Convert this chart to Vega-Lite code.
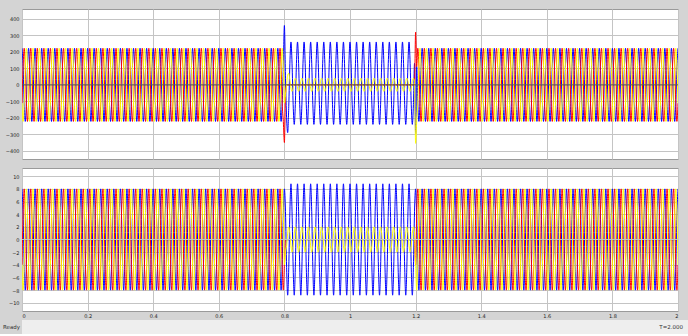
{
"$schema":"https://vega.github.io/schema/vega-lite/v6.json",
"background":"#d4d4d4",
"padding":{"left":0,"top":8,"right":0,"bottom":0},
"config":{
 "view":{"fill":"#ffffff","stroke":"#9a9a9a"},
 "axis":{"labelFontSize":5,"labelFont":"DejaVu Sans","labelColor":"#222222","gridColor":"#c4c4c4","domain":false,"ticks":false,"title":null,"labelPadding":3,"labelOverlap":false},
 "line":{"strokeWidth":1,"interpolate":"monotone"}
},
"datasets":{"w":[
{"t":0,"a":222,"b":-111,"c":-111,"p":8,"q":-4,"r":-4},
{"t":0.0033,"a":111,"b":111,"c":-222,"p":4,"q":4,"r":-8},
{"t":0.0067,"a":-111,"b":222,"c":-111,"p":-4,"q":8,"r":-4},
{"t":0.01,"a":-222,"b":111,"c":111,"p":-8,"q":4,"r":4},
{"t":0.0133,"a":-111,"b":-111,"c":222,"p":-4,"q":-4,"r":8},
{"t":0.0167,"a":111,"b":-222,"c":111,"p":4,"q":-8,"r":4},
{"t":0.02,"a":222,"b":-111,"c":-111,"p":8,"q":-4,"r":-4},
{"t":0.0233,"a":111,"b":111,"c":-222,"p":4,"q":4,"r":-8},
{"t":0.0267,"a":-111,"b":222,"c":-111,"p":-4,"q":8,"r":-4},
{"t":0.03,"a":-222,"b":111,"c":111,"p":-8,"q":4,"r":4},
{"t":0.0333,"a":-111,"b":-111,"c":222,"p":-4,"q":-4,"r":8},
{"t":0.0367,"a":111,"b":-222,"c":111,"p":4,"q":-8,"r":4},
{"t":0.04,"a":222,"b":-111,"c":-111,"p":8,"q":-4,"r":-4},
{"t":0.0433,"a":111,"b":111,"c":-222,"p":4,"q":4,"r":-8},
{"t":0.0467,"a":-111,"b":222,"c":-111,"p":-4,"q":8,"r":-4},
{"t":0.05,"a":-222,"b":111,"c":111,"p":-8,"q":4,"r":4},
{"t":0.0533,"a":-111,"b":-111,"c":222,"p":-4,"q":-4,"r":8},
{"t":0.0567,"a":111,"b":-222,"c":111,"p":4,"q":-8,"r":4},
{"t":0.06,"a":222,"b":-111,"c":-111,"p":8,"q":-4,"r":-4},
{"t":0.0633,"a":111,"b":111,"c":-222,"p":4,"q":4,"r":-8},
{"t":0.0667,"a":-111,"b":222,"c":-111,"p":-4,"q":8,"r":-4},
{"t":0.07,"a":-222,"b":111,"c":111,"p":-8,"q":4,"r":4},
{"t":0.0733,"a":-111,"b":-111,"c":222,"p":-4,"q":-4,"r":8},
{"t":0.0767,"a":111,"b":-222,"c":111,"p":4,"q":-8,"r":4},
{"t":0.08,"a":222,"b":-111,"c":-111,"p":8,"q":-4,"r":-4},
{"t":0.0833,"a":111,"b":111,"c":-222,"p":4,"q":4,"r":-8},
{"t":0.0867,"a":-111,"b":222,"c":-111,"p":-4,"q":8,"r":-4},
{"t":0.09,"a":-222,"b":111,"c":111,"p":-8,"q":4,"r":4},
{"t":0.0933,"a":-111,"b":-111,"c":222,"p":-4,"q":-4,"r":8},
{"t":0.0967,"a":111,"b":-222,"c":111,"p":4,"q":-8,"r":4},
{"t":0.1,"a":222,"b":-111,"c":-111,"p":8,"q":-4,"r":-4},
{"t":0.1033,"a":111,"b":111,"c":-222,"p":4,"q":4,"r":-8},
{"t":0.1067,"a":-111,"b":222,"c":-111,"p":-4,"q":8,"r":-4},
{"t":0.11,"a":-222,"b":111,"c":111,"p":-8,"q":4,"r":4},
{"t":0.1133,"a":-111,"b":-111,"c":222,"p":-4,"q":-4,"r":8},
{"t":0.1167,"a":111,"b":-222,"c":111,"p":4,"q":-8,"r":4},
{"t":0.12,"a":222,"b":-111,"c":-111,"p":8,"q":-4,"r":-4},
{"t":0.1233,"a":111,"b":111,"c":-222,"p":4,"q":4,"r":-8},
{"t":0.1267,"a":-111,"b":222,"c":-111,"p":-4,"q":8,"r":-4},
{"t":0.13,"a":-222,"b":111,"c":111,"p":-8,"q":4,"r":4},
{"t":0.1333,"a":-111,"b":-111,"c":222,"p":-4,"q":-4,"r":8},
{"t":0.1367,"a":111,"b":-222,"c":111,"p":4,"q":-8,"r":4},
{"t":0.14,"a":222,"b":-111,"c":-111,"p":8,"q":-4,"r":-4},
{"t":0.1433,"a":111,"b":111,"c":-222,"p":4,"q":4,"r":-8},
{"t":0.1467,"a":-111,"b":222,"c":-111,"p":-4,"q":8,"r":-4},
{"t":0.15,"a":-222,"b":111,"c":111,"p":-8,"q":4,"r":4},
{"t":0.1533,"a":-111,"b":-111,"c":222,"p":-4,"q":-4,"r":8},
{"t":0.1567,"a":111,"b":-222,"c":111,"p":4,"q":-8,"r":4},
{"t":0.16,"a":222,"b":-111,"c":-111,"p":8,"q":-4,"r":-4},
{"t":0.1633,"a":111,"b":111,"c":-222,"p":4,"q":4,"r":-8},
{"t":0.1667,"a":-111,"b":222,"c":-111,"p":-4,"q":8,"r":-4},
{"t":0.17,"a":-222,"b":111,"c":111,"p":-8,"q":4,"r":4},
{"t":0.1733,"a":-111,"b":-111,"c":222,"p":-4,"q":-4,"r":8},
{"t":0.1767,"a":111,"b":-222,"c":111,"p":4,"q":-8,"r":4},
{"t":0.18,"a":222,"b":-111,"c":-111,"p":8,"q":-4,"r":-4},
{"t":0.1833,"a":111,"b":111,"c":-222,"p":4,"q":4,"r":-8},
{"t":0.1867,"a":-111,"b":222,"c":-111,"p":-4,"q":8,"r":-4},
{"t":0.19,"a":-222,"b":111,"c":111,"p":-8,"q":4,"r":4},
{"t":0.1933,"a":-111,"b":-111,"c":222,"p":-4,"q":-4,"r":8},
{"t":0.1967,"a":111,"b":-222,"c":111,"p":4,"q":-8,"r":4},
{"t":0.2,"a":222,"b":-111,"c":-111,"p":8,"q":-4,"r":-4},
{"t":0.2033,"a":111,"b":111,"c":-222,"p":4,"q":4,"r":-8},
{"t":0.2067,"a":-111,"b":222,"c":-111,"p":-4,"q":8,"r":-4},
{"t":0.21,"a":-222,"b":111,"c":111,"p":-8,"q":4,"r":4},
{"t":0.2133,"a":-111,"b":-111,"c":222,"p":-4,"q":-4,"r":8},
{"t":0.2167,"a":111,"b":-222,"c":111,"p":4,"q":-8,"r":4},
{"t":0.22,"a":222,"b":-111,"c":-111,"p":8,"q":-4,"r":-4},
{"t":0.2233,"a":111,"b":111,"c":-222,"p":4,"q":4,"r":-8},
{"t":0.2267,"a":-111,"b":222,"c":-111,"p":-4,"q":8,"r":-4},
{"t":0.23,"a":-222,"b":111,"c":111,"p":-8,"q":4,"r":4},
{"t":0.2333,"a":-111,"b":-111,"c":222,"p":-4,"q":-4,"r":8},
{"t":0.2367,"a":111,"b":-222,"c":111,"p":4,"q":-8,"r":4},
{"t":0.24,"a":222,"b":-111,"c":-111,"p":8,"q":-4,"r":-4},
{"t":0.2433,"a":111,"b":111,"c":-222,"p":4,"q":4,"r":-8},
{"t":0.2467,"a":-111,"b":222,"c":-111,"p":-4,"q":8,"r":-4},
{"t":0.25,"a":-222,"b":111,"c":111,"p":-8,"q":4,"r":4},
{"t":0.2533,"a":-111,"b":-111,"c":222,"p":-4,"q":-4,"r":8},
{"t":0.2567,"a":111,"b":-222,"c":111,"p":4,"q":-8,"r":4},
{"t":0.26,"a":222,"b":-111,"c":-111,"p":8,"q":-4,"r":-4},
{"t":0.2633,"a":111,"b":111,"c":-222,"p":4,"q":4,"r":-8},
{"t":0.2667,"a":-111,"b":222,"c":-111,"p":-4,"q":8,"r":-4},
{"t":0.27,"a":-222,"b":111,"c":111,"p":-8,"q":4,"r":4},
{"t":0.2733,"a":-111,"b":-111,"c":222,"p":-4,"q":-4,"r":8},
{"t":0.2767,"a":111,"b":-222,"c":111,"p":4,"q":-8,"r":4},
{"t":0.28,"a":222,"b":-111,"c":-111,"p":8,"q":-4,"r":-4},
{"t":0.2833,"a":111,"b":111,"c":-222,"p":4,"q":4,"r":-8},
{"t":0.2867,"a":-111,"b":222,"c":-111,"p":-4,"q":8,"r":-4},
{"t":0.29,"a":-222,"b":111,"c":111,"p":-8,"q":4,"r":4},
{"t":0.2933,"a":-111,"b":-111,"c":222,"p":-4,"q":-4,"r":8},
{"t":0.2967,"a":111,"b":-222,"c":111,"p":4,"q":-8,"r":4},
{"t":0.3,"a":222,"b":-111,"c":-111,"p":8,"q":-4,"r":-4},
{"t":0.3033,"a":111,"b":111,"c":-222,"p":4,"q":4,"r":-8},
{"t":0.3067,"a":-111,"b":222,"c":-111,"p":-4,"q":8,"r":-4},
{"t":0.31,"a":-222,"b":111,"c":111,"p":-8,"q":4,"r":4},
{"t":0.3133,"a":-111,"b":-111,"c":222,"p":-4,"q":-4,"r":8},
{"t":0.3167,"a":111,"b":-222,"c":111,"p":4,"q":-8,"r":4},
{"t":0.32,"a":222,"b":-111,"c":-111,"p":8,"q":-4,"r":-4},
{"t":0.3233,"a":111,"b":111,"c":-222,"p":4,"q":4,"r":-8},
{"t":0.3267,"a":-111,"b":222,"c":-111,"p":-4,"q":8,"r":-4},
{"t":0.33,"a":-222,"b":111,"c":111,"p":-8,"q":4,"r":4},
{"t":0.3333,"a":-111,"b":-111,"c":222,"p":-4,"q":-4,"r":8},
{"t":0.3367,"a":111,"b":-222,"c":111,"p":4,"q":-8,"r":4},
{"t":0.34,"a":222,"b":-111,"c":-111,"p":8,"q":-4,"r":-4},
{"t":0.3433,"a":111,"b":111,"c":-222,"p":4,"q":4,"r":-8},
{"t":0.3467,"a":-111,"b":222,"c":-111,"p":-4,"q":8,"r":-4},
{"t":0.35,"a":-222,"b":111,"c":111,"p":-8,"q":4,"r":4},
{"t":0.3533,"a":-111,"b":-111,"c":222,"p":-4,"q":-4,"r":8},
{"t":0.3567,"a":111,"b":-222,"c":111,"p":4,"q":-8,"r":4},
{"t":0.36,"a":222,"b":-111,"c":-111,"p":8,"q":-4,"r":-4},
{"t":0.3633,"a":111,"b":111,"c":-222,"p":4,"q":4,"r":-8},
{"t":0.3667,"a":-111,"b":222,"c":-111,"p":-4,"q":8,"r":-4},
{"t":0.37,"a":-222,"b":111,"c":111,"p":-8,"q":4,"r":4},
{"t":0.3733,"a":-111,"b":-111,"c":222,"p":-4,"q":-4,"r":8},
{"t":0.3767,"a":111,"b":-222,"c":111,"p":4,"q":-8,"r":4},
{"t":0.38,"a":222,"b":-111,"c":-111,"p":8,"q":-4,"r":-4},
{"t":0.3833,"a":111,"b":111,"c":-222,"p":4,"q":4,"r":-8},
{"t":0.3867,"a":-111,"b":222,"c":-111,"p":-4,"q":8,"r":-4},
{"t":0.39,"a":-222,"b":111,"c":111,"p":-8,"q":4,"r":4},
{"t":0.3933,"a":-111,"b":-111,"c":222,"p":-4,"q":-4,"r":8},
{"t":0.3967,"a":111,"b":-222,"c":111,"p":4,"q":-8,"r":4},
{"t":0.4,"a":222,"b":-111,"c":-111,"p":8,"q":-4,"r":-4},
{"t":0.4033,"a":111,"b":111,"c":-222,"p":4,"q":4,"r":-8},
{"t":0.4067,"a":-111,"b":222,"c":-111,"p":-4,"q":8,"r":-4},
{"t":0.41,"a":-222,"b":111,"c":111,"p":-8,"q":4,"r":4},
{"t":0.4133,"a":-111,"b":-111,"c":222,"p":-4,"q":-4,"r":8},
{"t":0.4167,"a":111,"b":-222,"c":111,"p":4,"q":-8,"r":4},
{"t":0.42,"a":222,"b":-111,"c":-111,"p":8,"q":-4,"r":-4},
{"t":0.4233,"a":111,"b":111,"c":-222,"p":4,"q":4,"r":-8},
{"t":0.4267,"a":-111,"b":222,"c":-111,"p":-4,"q":8,"r":-4},
{"t":0.43,"a":-222,"b":111,"c":111,"p":-8,"q":4,"r":4},
{"t":0.4333,"a":-111,"b":-111,"c":222,"p":-4,"q":-4,"r":8},
{"t":0.4367,"a":111,"b":-222,"c":111,"p":4,"q":-8,"r":4},
{"t":0.44,"a":222,"b":-111,"c":-111,"p":8,"q":-4,"r":-4},
{"t":0.4433,"a":111,"b":111,"c":-222,"p":4,"q":4,"r":-8},
{"t":0.4467,"a":-111,"b":222,"c":-111,"p":-4,"q":8,"r":-4},
{"t":0.45,"a":-222,"b":111,"c":111,"p":-8,"q":4,"r":4},
{"t":0.4533,"a":-111,"b":-111,"c":222,"p":-4,"q":-4,"r":8},
{"t":0.4567,"a":111,"b":-222,"c":111,"p":4,"q":-8,"r":4},
{"t":0.46,"a":222,"b":-111,"c":-111,"p":8,"q":-4,"r":-4},
{"t":0.4633,"a":111,"b":111,"c":-222,"p":4,"q":4,"r":-8},
{"t":0.4667,"a":-111,"b":222,"c":-111,"p":-4,"q":8,"r":-4},
{"t":0.47,"a":-222,"b":111,"c":111,"p":-8,"q":4,"r":4},
{"t":0.4733,"a":-111,"b":-111,"c":222,"p":-4,"q":-4,"r":8},
{"t":0.4767,"a":111,"b":-222,"c":111,"p":4,"q":-8,"r":4},
{"t":0.48,"a":222,"b":-111,"c":-111,"p":8,"q":-4,"r":-4},
{"t":0.4833,"a":111,"b":111,"c":-222,"p":4,"q":4,"r":-8},
{"t":0.4867,"a":-111,"b":222,"c":-111,"p":-4,"q":8,"r":-4},
{"t":0.49,"a":-222,"b":111,"c":111,"p":-8,"q":4,"r":4},
{"t":0.4933,"a":-111,"b":-111,"c":222,"p":-4,"q":-4,"r":8},
{"t":0.4967,"a":111,"b":-222,"c":111,"p":4,"q":-8,"r":4},
{"t":0.5,"a":222,"b":-111,"c":-111,"p":8,"q":-4,"r":-4},
{"t":0.5033,"a":111,"b":111,"c":-222,"p":4,"q":4,"r":-8},
{"t":0.5067,"a":-111,"b":222,"c":-111,"p":-4,"q":8,"r":-4},
{"t":0.51,"a":-222,"b":111,"c":111,"p":-8,"q":4,"r":4},
{"t":0.5133,"a":-111,"b":-111,"c":222,"p":-4,"q":-4,"r":8},
{"t":0.5167,"a":111,"b":-222,"c":111,"p":4,"q":-8,"r":4},
{"t":0.52,"a":222,"b":-111,"c":-111,"p":8,"q":-4,"r":-4},
{"t":0.5233,"a":111,"b":111,"c":-222,"p":4,"q":4,"r":-8},
{"t":0.5267,"a":-111,"b":222,"c":-111,"p":-4,"q":8,"r":-4},
{"t":0.53,"a":-222,"b":111,"c":111,"p":-8,"q":4,"r":4},
{"t":0.5333,"a":-111,"b":-111,"c":222,"p":-4,"q":-4,"r":8},
{"t":0.5367,"a":111,"b":-222,"c":111,"p":4,"q":-8,"r":4},
{"t":0.54,"a":222,"b":-111,"c":-111,"p":8,"q":-4,"r":-4},
{"t":0.5433,"a":111,"b":111,"c":-222,"p":4,"q":4,"r":-8},
{"t":0.5467,"a":-111,"b":222,"c":-111,"p":-4,"q":8,"r":-4},
{"t":0.55,"a":-222,"b":111,"c":111,"p":-8,"q":4,"r":4},
{"t":0.5533,"a":-111,"b":-111,"c":222,"p":-4,"q":-4,"r":8},
{"t":0.5567,"a":111,"b":-222,"c":111,"p":4,"q":-8,"r":4},
{"t":0.56,"a":222,"b":-111,"c":-111,"p":8,"q":-4,"r":-4},
{"t":0.5633,"a":111,"b":111,"c":-222,"p":4,"q":4,"r":-8},
{"t":0.5667,"a":-111,"b":222,"c":-111,"p":-4,"q":8,"r":-4},
{"t":0.57,"a":-222,"b":111,"c":111,"p":-8,"q":4,"r":4},
{"t":0.5733,"a":-111,"b":-111,"c":222,"p":-4,"q":-4,"r":8},
{"t":0.5767,"a":111,"b":-222,"c":111,"p":4,"q":-8,"r":4},
{"t":0.58,"a":222,"b":-111,"c":-111,"p":8,"q":-4,"r":-4},
{"t":0.5833,"a":111,"b":111,"c":-222,"p":4,"q":4,"r":-8},
{"t":0.5867,"a":-111,"b":222,"c":-111,"p":-4,"q":8,"r":-4},
{"t":0.59,"a":-222,"b":111,"c":111,"p":-8,"q":4,"r":4},
{"t":0.5933,"a":-111,"b":-111,"c":222,"p":-4,"q":-4,"r":8},
{"t":0.5967,"a":111,"b":-222,"c":111,"p":4,"q":-8,"r":4},
{"t":0.6,"a":222,"b":-111,"c":-111,"p":8,"q":-4,"r":-4},
{"t":0.6033,"a":111,"b":111,"c":-222,"p":4,"q":4,"r":-8},
{"t":0.6067,"a":-111,"b":222,"c":-111,"p":-4,"q":8,"r":-4},
{"t":0.61,"a":-222,"b":111,"c":111,"p":-8,"q":4,"r":4},
{"t":0.6133,"a":-111,"b":-111,"c":222,"p":-4,"q":-4,"r":8},
{"t":0.6167,"a":111,"b":-222,"c":111,"p":4,"q":-8,"r":4},
{"t":0.62,"a":222,"b":-111,"c":-111,"p":8,"q":-4,"r":-4},
{"t":0.6233,"a":111,"b":111,"c":-222,"p":4,"q":4,"r":-8},
{"t":0.6267,"a":-111,"b":222,"c":-111,"p":-4,"q":8,"r":-4},
{"t":0.63,"a":-222,"b":111,"c":111,"p":-8,"q":4,"r":4},
{"t":0.6333,"a":-111,"b":-111,"c":222,"p":-4,"q":-4,"r":8},
{"t":0.6367,"a":111,"b":-222,"c":111,"p":4,"q":-8,"r":4},
{"t":0.64,"a":222,"b":-111,"c":-111,"p":8,"q":-4,"r":-4},
{"t":0.6433,"a":111,"b":111,"c":-222,"p":4,"q":4,"r":-8},
{"t":0.6467,"a":-111,"b":222,"c":-111,"p":-4,"q":8,"r":-4},
{"t":0.65,"a":-222,"b":111,"c":111,"p":-8,"q":4,"r":4},
{"t":0.6533,"a":-111,"b":-111,"c":222,"p":-4,"q":-4,"r":8},
{"t":0.6567,"a":111,"b":-222,"c":111,"p":4,"q":-8,"r":4},
{"t":0.66,"a":222,"b":-111,"c":-111,"p":8,"q":-4,"r":-4},
{"t":0.6633,"a":111,"b":111,"c":-222,"p":4,"q":4,"r":-8},
{"t":0.6667,"a":-111,"b":222,"c":-111,"p":-4,"q":8,"r":-4},
{"t":0.67,"a":-222,"b":111,"c":111,"p":-8,"q":4,"r":4},
{"t":0.6733,"a":-111,"b":-111,"c":222,"p":-4,"q":-4,"r":8},
{"t":0.6767,"a":111,"b":-222,"c":111,"p":4,"q":-8,"r":4},
{"t":0.68,"a":222,"b":-111,"c":-111,"p":8,"q":-4,"r":-4},
{"t":0.6833,"a":111,"b":111,"c":-222,"p":4,"q":4,"r":-8},
{"t":0.6867,"a":-111,"b":222,"c":-111,"p":-4,"q":8,"r":-4},
{"t":0.69,"a":-222,"b":111,"c":111,"p":-8,"q":4,"r":4},
{"t":0.6933,"a":-111,"b":-111,"c":222,"p":-4,"q":-4,"r":8},
{"t":0.6967,"a":111,"b":-222,"c":111,"p":4,"q":-8,"r":4},
{"t":0.7,"a":222,"b":-111,"c":-111,"p":8,"q":-4,"r":-4},
{"t":0.7033,"a":111,"b":111,"c":-222,"p":4,"q":4,"r":-8},
{"t":0.7067,"a":-111,"b":222,"c":-111,"p":-4,"q":8,"r":-4},
{"t":0.71,"a":-222,"b":111,"c":111,"p":-8,"q":4,"r":4},
{"t":0.7133,"a":-111,"b":-111,"c":222,"p":-4,"q":-4,"r":8},
{"t":0.7167,"a":111,"b":-222,"c":111,"p":4,"q":-8,"r":4},
{"t":0.72,"a":222,"b":-111,"c":-111,"p":8,"q":-4,"r":-4},
{"t":0.7233,"a":111,"b":111,"c":-222,"p":4,"q":4,"r":-8},
{"t":0.7267,"a":-111,"b":222,"c":-111,"p":-4,"q":8,"r":-4},
{"t":0.73,"a":-222,"b":111,"c":111,"p":-8,"q":4,"r":4},
{"t":0.7333,"a":-111,"b":-111,"c":222,"p":-4,"q":-4,"r":8},
{"t":0.7367,"a":111,"b":-222,"c":111,"p":4,"q":-8,"r":4},
{"t":0.74,"a":222,"b":-111,"c":-111,"p":8,"q":-4,"r":-4},
{"t":0.7433,"a":111,"b":111,"c":-222,"p":4,"q":4,"r":-8},
{"t":0.7467,"a":-111,"b":222,"c":-111,"p":-4,"q":8,"r":-4},
{"t":0.75,"a":-222,"b":111,"c":111,"p":-8,"q":4,"r":4},
{"t":0.7533,"a":-111,"b":-111,"c":222,"p":-4,"q":-4,"r":8},
{"t":0.7567,"a":111,"b":-222,"c":111,"p":4,"q":-8,"r":4},
{"t":0.76,"a":222,"b":-111,"c":-111,"p":8,"q":-4,"r":-4},
{"t":0.7633,"a":111,"b":111,"c":-222,"p":4,"q":4,"r":-8},
{"t":0.7667,"a":-111,"b":222,"c":-111,"p":-4,"q":8,"r":-4},
{"t":0.77,"a":-222,"b":111,"c":111,"p":-8,"q":4,"r":4},
{"t":0.7733,"a":-111,"b":-111,"c":222,"p":-4,"q":-4,"r":8},
{"t":0.7767,"a":111,"b":-222,"c":111,"p":4,"q":-8,"r":4},
{"t":0.78,"a":222,"b":-111,"c":-111,"p":8,"q":-4,"r":-4},
{"t":0.7833,"a":111,"b":111,"c":-222,"p":4,"q":4,"r":-8},
{"t":0.7867,"a":-111,"b":222,"c":-111,"p":-4,"q":8,"r":-4},
{"t":0.79,"a":-222,"b":111,"c":111,"p":-8,"q":4,"r":4},
{"t":0.7933,"a":-111,"b":-111,"c":222,"p":-4,"q":-4,"r":8},
{"t":0.7967,"a":111,"b":-222,"c":111,"p":4,"q":-8,"r":4},
{"t":0.8,"a":360,"b":-350,"c":-111,"p":8,"q":-4,"r":-4},
{"t":0.8033,"a":40,"b":-60,"c":-60,"p":4.4,"q":0,"r":-2},
{"t":0.8067,"a":-200,"b":0,"c":0,"p":-4.4,"q":0,"r":-1},
{"t":0.81,"a":-290,"b":0,"c":60,"p":-8.8,"q":0,"r":1},
{"t":0.8133,"a":-130,"b":0,"c":70,"p":-4.4,"q":0,"r":2},
{"t":0.8167,"a":130,"b":0,"c":30,"p":4.4,"q":0,"r":1},
{"t":0.82,"a":260,"b":0,"c":-20,"p":8.8,"q":0,"r":-1},
{"t":0.8233,"a":130,"b":0,"c":-40,"p":4.4,"q":0,"r":-2},
{"t":0.8267,"a":-120,"b":0,"c":-20,"p":-4.4,"q":0,"r":-1},
{"t":0.83,"a":-240,"b":0,"c":20,"p":-8.8,"q":0,"r":1},
{"t":0.8333,"a":-120,"b":0,"c":40,"p":-4.4,"q":0,"r":2},
{"t":0.8367,"a":130,"b":0,"c":20,"p":4.4,"q":0,"r":1},
{"t":0.84,"a":260,"b":0,"c":-20,"p":8.8,"q":0,"r":-1},
{"t":0.8433,"a":130,"b":0,"c":-40,"p":4.4,"q":0,"r":-2},
{"t":0.8467,"a":-120,"b":0,"c":-20,"p":-4.4,"q":0,"r":-1},
{"t":0.85,"a":-240,"b":0,"c":20,"p":-8.8,"q":0,"r":1},
{"t":0.8533,"a":-120,"b":0,"c":40,"p":-4.4,"q":0,"r":2},
{"t":0.8567,"a":130,"b":0,"c":20,"p":4.4,"q":0,"r":1},
{"t":0.86,"a":260,"b":0,"c":-20,"p":8.8,"q":0,"r":-1},
{"t":0.8633,"a":130,"b":0,"c":-40,"p":4.4,"q":0,"r":-2},
{"t":0.8667,"a":-120,"b":0,"c":-20,"p":-4.4,"q":0,"r":-1},
{"t":0.87,"a":-240,"b":0,"c":20,"p":-8.8,"q":0,"r":1},
{"t":0.8733,"a":-120,"b":0,"c":40,"p":-4.4,"q":0,"r":2},
{"t":0.8767,"a":130,"b":0,"c":20,"p":4.4,"q":0,"r":1},
{"t":0.88,"a":260,"b":0,"c":-20,"p":8.8,"q":0,"r":-1},
{"t":0.8833,"a":130,"b":0,"c":-40,"p":4.4,"q":0,"r":-2},
{"t":0.8867,"a":-120,"b":0,"c":-20,"p":-4.4,"q":0,"r":-1},
{"t":0.89,"a":-240,"b":0,"c":20,"p":-8.8,"q":0,"r":1},
{"t":0.8933,"a":-120,"b":0,"c":40,"p":-4.4,"q":0,"r":2},
{"t":0.8967,"a":130,"b":0,"c":20,"p":4.4,"q":0,"r":1},
{"t":0.9,"a":260,"b":0,"c":-20,"p":8.8,"q":0,"r":-1},
{"t":0.9033,"a":130,"b":0,"c":-40,"p":4.4,"q":0,"r":-2},
{"t":0.9067,"a":-120,"b":0,"c":-20,"p":-4.4,"q":0,"r":-1},
{"t":0.91,"a":-240,"b":0,"c":20,"p":-8.8,"q":0,"r":1},
{"t":0.9133,"a":-120,"b":0,"c":40,"p":-4.4,"q":0,"r":2},
{"t":0.9167,"a":130,"b":0,"c":20,"p":4.4,"q":0,"r":1},
{"t":0.92,"a":260,"b":0,"c":-20,"p":8.8,"q":0,"r":-1},
{"t":0.9233,"a":130,"b":0,"c":-40,"p":4.4,"q":0,"r":-2},
{"t":0.9267,"a":-120,"b":0,"c":-20,"p":-4.4,"q":0,"r":-1},
{"t":0.93,"a":-240,"b":0,"c":20,"p":-8.8,"q":0,"r":1},
{"t":0.9333,"a":-120,"b":0,"c":40,"p":-4.4,"q":0,"r":2},
{"t":0.9367,"a":130,"b":0,"c":20,"p":4.4,"q":0,"r":1},
{"t":0.94,"a":260,"b":0,"c":-20,"p":8.8,"q":0,"r":-1},
{"t":0.9433,"a":130,"b":0,"c":-40,"p":4.4,"q":0,"r":-2},
{"t":0.9467,"a":-120,"b":0,"c":-20,"p":-4.4,"q":0,"r":-1},
{"t":0.95,"a":-240,"b":0,"c":20,"p":-8.8,"q":0,"r":1},
{"t":0.9533,"a":-120,"b":0,"c":40,"p":-4.4,"q":0,"r":2},
{"t":0.9567,"a":130,"b":0,"c":20,"p":4.4,"q":0,"r":1},
{"t":0.96,"a":260,"b":0,"c":-20,"p":8.8,"q":0,"r":-1},
{"t":0.9633,"a":130,"b":0,"c":-40,"p":4.4,"q":0,"r":-2},
{"t":0.9667,"a":-120,"b":0,"c":-20,"p":-4.4,"q":0,"r":-1},
{"t":0.97,"a":-240,"b":0,"c":20,"p":-8.8,"q":0,"r":1},
{"t":0.9733,"a":-120,"b":0,"c":40,"p":-4.4,"q":0,"r":2},
{"t":0.9767,"a":130,"b":0,"c":20,"p":4.4,"q":0,"r":1},
{"t":0.98,"a":260,"b":0,"c":-20,"p":8.8,"q":0,"r":-1},
{"t":0.9833,"a":130,"b":0,"c":-40,"p":4.4,"q":0,"r":-2},
{"t":0.9867,"a":-120,"b":0,"c":-20,"p":-4.4,"q":0,"r":-1},
{"t":0.99,"a":-240,"b":0,"c":20,"p":-8.8,"q":0,"r":1},
{"t":0.9933,"a":-120,"b":0,"c":40,"p":-4.4,"q":0,"r":2},
{"t":0.9967,"a":130,"b":0,"c":20,"p":4.4,"q":0,"r":1},
{"t":1,"a":260,"b":0,"c":-20,"p":8.8,"q":0,"r":-1},
{"t":1.0033,"a":130,"b":0,"c":-40,"p":4.4,"q":0,"r":-2},
{"t":1.0067,"a":-120,"b":0,"c":-20,"p":-4.4,"q":0,"r":-1},
{"t":1.01,"a":-240,"b":0,"c":20,"p":-8.8,"q":0,"r":1},
{"t":1.0133,"a":-120,"b":0,"c":40,"p":-4.4,"q":0,"r":2},
{"t":1.0167,"a":130,"b":0,"c":20,"p":4.4,"q":0,"r":1},
{"t":1.02,"a":260,"b":0,"c":-20,"p":8.8,"q":0,"r":-1},
{"t":1.0233,"a":130,"b":0,"c":-40,"p":4.4,"q":0,"r":-2},
{"t":1.0267,"a":-120,"b":0,"c":-20,"p":-4.4,"q":0,"r":-1},
{"t":1.03,"a":-240,"b":0,"c":20,"p":-8.8,"q":0,"r":1},
{"t":1.0333,"a":-120,"b":0,"c":40,"p":-4.4,"q":0,"r":2},
{"t":1.0367,"a":130,"b":0,"c":20,"p":4.4,"q":0,"r":1},
{"t":1.04,"a":260,"b":0,"c":-20,"p":8.8,"q":0,"r":-1},
{"t":1.0433,"a":130,"b":0,"c":-40,"p":4.4,"q":0,"r":-2},
{"t":1.0467,"a":-120,"b":0,"c":-20,"p":-4.4,"q":0,"r":-1},
{"t":1.05,"a":-240,"b":0,"c":20,"p":-8.8,"q":0,"r":1},
{"t":1.0533,"a":-120,"b":0,"c":40,"p":-4.4,"q":0,"r":2},
{"t":1.0567,"a":130,"b":0,"c":20,"p":4.4,"q":0,"r":1},
{"t":1.06,"a":260,"b":0,"c":-20,"p":8.8,"q":0,"r":-1},
{"t":1.0633,"a":130,"b":0,"c":-40,"p":4.4,"q":0,"r":-2},
{"t":1.0667,"a":-120,"b":0,"c":-20,"p":-4.4,"q":0,"r":-1},
{"t":1.07,"a":-240,"b":0,"c":20,"p":-8.8,"q":0,"r":1},
{"t":1.0733,"a":-120,"b":0,"c":40,"p":-4.4,"q":0,"r":2},
{"t":1.0767,"a":130,"b":0,"c":20,"p":4.4,"q":0,"r":1},
{"t":1.08,"a":260,"b":0,"c":-20,"p":8.8,"q":0,"r":-1},
{"t":1.0833,"a":130,"b":0,"c":-40,"p":4.4,"q":0,"r":-2},
{"t":1.0867,"a":-120,"b":0,"c":-20,"p":-4.4,"q":0,"r":-1},
{"t":1.09,"a":-240,"b":0,"c":20,"p":-8.8,"q":0,"r":1},
{"t":1.0933,"a":-120,"b":0,"c":40,"p":-4.4,"q":0,"r":2},
{"t":1.0967,"a":130,"b":0,"c":20,"p":4.4,"q":0,"r":1},
{"t":1.1,"a":260,"b":0,"c":-20,"p":8.8,"q":0,"r":-1},
{"t":1.1033,"a":130,"b":0,"c":-40,"p":4.4,"q":0,"r":-2},
{"t":1.1067,"a":-120,"b":0,"c":-20,"p":-4.4,"q":0,"r":-1},
{"t":1.11,"a":-240,"b":0,"c":20,"p":-8.8,"q":0,"r":1},
{"t":1.1133,"a":-120,"b":0,"c":40,"p":-4.4,"q":0,"r":2},
{"t":1.1167,"a":130,"b":0,"c":20,"p":4.4,"q":0,"r":1},
{"t":1.12,"a":260,"b":0,"c":-20,"p":8.8,"q":0,"r":-1},
{"t":1.1233,"a":130,"b":0,"c":-40,"p":4.4,"q":0,"r":-2},
{"t":1.1267,"a":-120,"b":0,"c":-20,"p":-4.4,"q":0,"r":-1},
{"t":1.13,"a":-240,"b":0,"c":20,"p":-8.8,"q":0,"r":1},
{"t":1.1333,"a":-120,"b":0,"c":40,"p":-4.4,"q":0,"r":2},
{"t":1.1367,"a":130,"b":0,"c":20,"p":4.4,"q":0,"r":1},
{"t":1.14,"a":260,"b":0,"c":-20,"p":8.8,"q":0,"r":-1},
{"t":1.1433,"a":130,"b":0,"c":-40,"p":4.4,"q":0,"r":-2},
{"t":1.1467,"a":-120,"b":0,"c":-20,"p":-4.4,"q":0,"r":-1},
{"t":1.15,"a":-240,"b":0,"c":20,"p":-8.8,"q":0,"r":1},
{"t":1.1533,"a":-120,"b":0,"c":40,"p":-4.4,"q":0,"r":2},
{"t":1.1567,"a":130,"b":0,"c":20,"p":4.4,"q":0,"r":1},
{"t":1.16,"a":260,"b":0,"c":-20,"p":8.8,"q":0,"r":-1},
{"t":1.1633,"a":130,"b":0,"c":-40,"p":4.4,"q":0,"r":-2},
{"t":1.1667,"a":-120,"b":0,"c":-20,"p":-4.4,"q":0,"r":-1},
{"t":1.17,"a":-240,"b":0,"c":20,"p":-8.8,"q":0,"r":1},
{"t":1.1733,"a":-120,"b":0,"c":40,"p":-4.4,"q":0,"r":2},
{"t":1.1767,"a":130,"b":0,"c":20,"p":4.4,"q":0,"r":1},
{"t":1.18,"a":260,"b":0,"c":-20,"p":8.8,"q":0,"r":-1},
{"t":1.1833,"a":130,"b":0,"c":-40,"p":4.4,"q":0,"r":-2},
{"t":1.1867,"a":-120,"b":0,"c":-20,"p":-4.4,"q":0,"r":-1},
{"t":1.19,"a":-240,"b":0,"c":20,"p":-8.8,"q":0,"r":1},
{"t":1.1933,"a":-120,"b":0,"c":40,"p":-4.4,"q":0,"r":2},
{"t":1.1967,"a":130,"b":0,"c":20,"p":4.4,"q":0,"r":1},
{"t":1.2,"a":-295,"b":320,"c":-355,"p":8,"q":-4,"r":-4},
{"t":1.2033,"a":111,"b":111,"c":-222,"p":4,"q":4,"r":-8},
{"t":1.2067,"a":-111,"b":222,"c":-111,"p":-4,"q":8,"r":-4},
{"t":1.21,"a":-222,"b":111,"c":111,"p":-8,"q":4,"r":4},
{"t":1.2133,"a":-111,"b":-111,"c":222,"p":-4,"q":-4,"r":8},
{"t":1.2167,"a":111,"b":-222,"c":111,"p":4,"q":-8,"r":4},
{"t":1.22,"a":222,"b":-111,"c":-111,"p":8,"q":-4,"r":-4},
{"t":1.2233,"a":111,"b":111,"c":-222,"p":4,"q":4,"r":-8},
{"t":1.2267,"a":-111,"b":222,"c":-111,"p":-4,"q":8,"r":-4},
{"t":1.23,"a":-222,"b":111,"c":111,"p":-8,"q":4,"r":4},
{"t":1.2333,"a":-111,"b":-111,"c":222,"p":-4,"q":-4,"r":8},
{"t":1.2367,"a":111,"b":-222,"c":111,"p":4,"q":-8,"r":4},
{"t":1.24,"a":222,"b":-111,"c":-111,"p":8,"q":-4,"r":-4},
{"t":1.2433,"a":111,"b":111,"c":-222,"p":4,"q":4,"r":-8},
{"t":1.2467,"a":-111,"b":222,"c":-111,"p":-4,"q":8,"r":-4},
{"t":1.25,"a":-222,"b":111,"c":111,"p":-8,"q":4,"r":4},
{"t":1.2533,"a":-111,"b":-111,"c":222,"p":-4,"q":-4,"r":8},
{"t":1.2567,"a":111,"b":-222,"c":111,"p":4,"q":-8,"r":4},
{"t":1.26,"a":222,"b":-111,"c":-111,"p":8,"q":-4,"r":-4},
{"t":1.2633,"a":111,"b":111,"c":-222,"p":4,"q":4,"r":-8},
{"t":1.2667,"a":-111,"b":222,"c":-111,"p":-4,"q":8,"r":-4},
{"t":1.27,"a":-222,"b":111,"c":111,"p":-8,"q":4,"r":4},
{"t":1.2733,"a":-111,"b":-111,"c":222,"p":-4,"q":-4,"r":8},
{"t":1.2767,"a":111,"b":-222,"c":111,"p":4,"q":-8,"r":4},
{"t":1.28,"a":222,"b":-111,"c":-111,"p":8,"q":-4,"r":-4},
{"t":1.2833,"a":111,"b":111,"c":-222,"p":4,"q":4,"r":-8},
{"t":1.2867,"a":-111,"b":222,"c":-111,"p":-4,"q":8,"r":-4},
{"t":1.29,"a":-222,"b":111,"c":111,"p":-8,"q":4,"r":4},
{"t":1.2933,"a":-111,"b":-111,"c":222,"p":-4,"q":-4,"r":8},
{"t":1.2967,"a":111,"b":-222,"c":111,"p":4,"q":-8,"r":4},
{"t":1.3,"a":222,"b":-111,"c":-111,"p":8,"q":-4,"r":-4},
{"t":1.3033,"a":111,"b":111,"c":-222,"p":4,"q":4,"r":-8},
{"t":1.3067,"a":-111,"b":222,"c":-111,"p":-4,"q":8,"r":-4},
{"t":1.31,"a":-222,"b":111,"c":111,"p":-8,"q":4,"r":4},
{"t":1.3133,"a":-111,"b":-111,"c":222,"p":-4,"q":-4,"r":8},
{"t":1.3167,"a":111,"b":-222,"c":111,"p":4,"q":-8,"r":4},
{"t":1.32,"a":222,"b":-111,"c":-111,"p":8,"q":-4,"r":-4},
{"t":1.3233,"a":111,"b":111,"c":-222,"p":4,"q":4,"r":-8},
{"t":1.3267,"a":-111,"b":222,"c":-111,"p":-4,"q":8,"r":-4},
{"t":1.33,"a":-222,"b":111,"c":111,"p":-8,"q":4,"r":4},
{"t":1.3333,"a":-111,"b":-111,"c":222,"p":-4,"q":-4,"r":8},
{"t":1.3367,"a":111,"b":-222,"c":111,"p":4,"q":-8,"r":4},
{"t":1.34,"a":222,"b":-111,"c":-111,"p":8,"q":-4,"r":-4},
{"t":1.3433,"a":111,"b":111,"c":-222,"p":4,"q":4,"r":-8},
{"t":1.3467,"a":-111,"b":222,"c":-111,"p":-4,"q":8,"r":-4},
{"t":1.35,"a":-222,"b":111,"c":111,"p":-8,"q":4,"r":4},
{"t":1.3533,"a":-111,"b":-111,"c":222,"p":-4,"q":-4,"r":8},
{"t":1.3567,"a":111,"b":-222,"c":111,"p":4,"q":-8,"r":4},
{"t":1.36,"a":222,"b":-111,"c":-111,"p":8,"q":-4,"r":-4},
{"t":1.3633,"a":111,"b":111,"c":-222,"p":4,"q":4,"r":-8},
{"t":1.3667,"a":-111,"b":222,"c":-111,"p":-4,"q":8,"r":-4},
{"t":1.37,"a":-222,"b":111,"c":111,"p":-8,"q":4,"r":4},
{"t":1.3733,"a":-111,"b":-111,"c":222,"p":-4,"q":-4,"r":8},
{"t":1.3767,"a":111,"b":-222,"c":111,"p":4,"q":-8,"r":4},
{"t":1.38,"a":222,"b":-111,"c":-111,"p":8,"q":-4,"r":-4},
{"t":1.3833,"a":111,"b":111,"c":-222,"p":4,"q":4,"r":-8},
{"t":1.3867,"a":-111,"b":222,"c":-111,"p":-4,"q":8,"r":-4},
{"t":1.39,"a":-222,"b":111,"c":111,"p":-8,"q":4,"r":4},
{"t":1.3933,"a":-111,"b":-111,"c":222,"p":-4,"q":-4,"r":8},
{"t":1.3967,"a":111,"b":-222,"c":111,"p":4,"q":-8,"r":4},
{"t":1.4,"a":222,"b":-111,"c":-111,"p":8,"q":-4,"r":-4},
{"t":1.4033,"a":111,"b":111,"c":-222,"p":4,"q":4,"r":-8},
{"t":1.4067,"a":-111,"b":222,"c":-111,"p":-4,"q":8,"r":-4},
{"t":1.41,"a":-222,"b":111,"c":111,"p":-8,"q":4,"r":4},
{"t":1.4133,"a":-111,"b":-111,"c":222,"p":-4,"q":-4,"r":8},
{"t":1.4167,"a":111,"b":-222,"c":111,"p":4,"q":-8,"r":4},
{"t":1.42,"a":222,"b":-111,"c":-111,"p":8,"q":-4,"r":-4},
{"t":1.4233,"a":111,"b":111,"c":-222,"p":4,"q":4,"r":-8},
{"t":1.4267,"a":-111,"b":222,"c":-111,"p":-4,"q":8,"r":-4},
{"t":1.43,"a":-222,"b":111,"c":111,"p":-8,"q":4,"r":4},
{"t":1.4333,"a":-111,"b":-111,"c":222,"p":-4,"q":-4,"r":8},
{"t":1.4367,"a":111,"b":-222,"c":111,"p":4,"q":-8,"r":4},
{"t":1.44,"a":222,"b":-111,"c":-111,"p":8,"q":-4,"r":-4},
{"t":1.4433,"a":111,"b":111,"c":-222,"p":4,"q":4,"r":-8},
{"t":1.4467,"a":-111,"b":222,"c":-111,"p":-4,"q":8,"r":-4},
{"t":1.45,"a":-222,"b":111,"c":111,"p":-8,"q":4,"r":4},
{"t":1.4533,"a":-111,"b":-111,"c":222,"p":-4,"q":-4,"r":8},
{"t":1.4567,"a":111,"b":-222,"c":111,"p":4,"q":-8,"r":4},
{"t":1.46,"a":222,"b":-111,"c":-111,"p":8,"q":-4,"r":-4},
{"t":1.4633,"a":111,"b":111,"c":-222,"p":4,"q":4,"r":-8},
{"t":1.4667,"a":-111,"b":222,"c":-111,"p":-4,"q":8,"r":-4},
{"t":1.47,"a":-222,"b":111,"c":111,"p":-8,"q":4,"r":4},
{"t":1.4733,"a":-111,"b":-111,"c":222,"p":-4,"q":-4,"r":8},
{"t":1.4767,"a":111,"b":-222,"c":111,"p":4,"q":-8,"r":4},
{"t":1.48,"a":222,"b":-111,"c":-111,"p":8,"q":-4,"r":-4},
{"t":1.4833,"a":111,"b":111,"c":-222,"p":4,"q":4,"r":-8},
{"t":1.4867,"a":-111,"b":222,"c":-111,"p":-4,"q":8,"r":-4},
{"t":1.49,"a":-222,"b":111,"c":111,"p":-8,"q":4,"r":4},
{"t":1.4933,"a":-111,"b":-111,"c":222,"p":-4,"q":-4,"r":8},
{"t":1.4967,"a":111,"b":-222,"c":111,"p":4,"q":-8,"r":4},
{"t":1.5,"a":222,"b":-111,"c":-111,"p":8,"q":-4,"r":-4},
{"t":1.5033,"a":111,"b":111,"c":-222,"p":4,"q":4,"r":-8},
{"t":1.5067,"a":-111,"b":222,"c":-111,"p":-4,"q":8,"r":-4},
{"t":1.51,"a":-222,"b":111,"c":111,"p":-8,"q":4,"r":4},
{"t":1.5133,"a":-111,"b":-111,"c":222,"p":-4,"q":-4,"r":8},
{"t":1.5167,"a":111,"b":-222,"c":111,"p":4,"q":-8,"r":4},
{"t":1.52,"a":222,"b":-111,"c":-111,"p":8,"q":-4,"r":-4},
{"t":1.5233,"a":111,"b":111,"c":-222,"p":4,"q":4,"r":-8},
{"t":1.5267,"a":-111,"b":222,"c":-111,"p":-4,"q":8,"r":-4},
{"t":1.53,"a":-222,"b":111,"c":111,"p":-8,"q":4,"r":4},
{"t":1.5333,"a":-111,"b":-111,"c":222,"p":-4,"q":-4,"r":8},
{"t":1.5367,"a":111,"b":-222,"c":111,"p":4,"q":-8,"r":4},
{"t":1.54,"a":222,"b":-111,"c":-111,"p":8,"q":-4,"r":-4},
{"t":1.5433,"a":111,"b":111,"c":-222,"p":4,"q":4,"r":-8},
{"t":1.5467,"a":-111,"b":222,"c":-111,"p":-4,"q":8,"r":-4},
{"t":1.55,"a":-222,"b":111,"c":111,"p":-8,"q":4,"r":4},
{"t":1.5533,"a":-111,"b":-111,"c":222,"p":-4,"q":-4,"r":8},
{"t":1.5567,"a":111,"b":-222,"c":111,"p":4,"q":-8,"r":4},
{"t":1.56,"a":222,"b":-111,"c":-111,"p":8,"q":-4,"r":-4},
{"t":1.5633,"a":111,"b":111,"c":-222,"p":4,"q":4,"r":-8},
{"t":1.5667,"a":-111,"b":222,"c":-111,"p":-4,"q":8,"r":-4},
{"t":1.57,"a":-222,"b":111,"c":111,"p":-8,"q":4,"r":4},
{"t":1.5733,"a":-111,"b":-111,"c":222,"p":-4,"q":-4,"r":8},
{"t":1.5767,"a":111,"b":-222,"c":111,"p":4,"q":-8,"r":4},
{"t":1.58,"a":222,"b":-111,"c":-111,"p":8,"q":-4,"r":-4},
{"t":1.5833,"a":111,"b":111,"c":-222,"p":4,"q":4,"r":-8},
{"t":1.5867,"a":-111,"b":222,"c":-111,"p":-4,"q":8,"r":-4},
{"t":1.59,"a":-222,"b":111,"c":111,"p":-8,"q":4,"r":4},
{"t":1.5933,"a":-111,"b":-111,"c":222,"p":-4,"q":-4,"r":8},
{"t":1.5967,"a":111,"b":-222,"c":111,"p":4,"q":-8,"r":4},
{"t":1.6,"a":222,"b":-111,"c":-111,"p":8,"q":-4,"r":-4},
{"t":1.6033,"a":111,"b":111,"c":-222,"p":4,"q":4,"r":-8},
{"t":1.6067,"a":-111,"b":222,"c":-111,"p":-4,"q":8,"r":-4},
{"t":1.61,"a":-222,"b":111,"c":111,"p":-8,"q":4,"r":4},
{"t":1.6133,"a":-111,"b":-111,"c":222,"p":-4,"q":-4,"r":8},
{"t":1.6167,"a":111,"b":-222,"c":111,"p":4,"q":-8,"r":4},
{"t":1.62,"a":222,"b":-111,"c":-111,"p":8,"q":-4,"r":-4},
{"t":1.6233,"a":111,"b":111,"c":-222,"p":4,"q":4,"r":-8},
{"t":1.6267,"a":-111,"b":222,"c":-111,"p":-4,"q":8,"r":-4},
{"t":1.63,"a":-222,"b":111,"c":111,"p":-8,"q":4,"r":4},
{"t":1.6333,"a":-111,"b":-111,"c":222,"p":-4,"q":-4,"r":8},
{"t":1.6367,"a":111,"b":-222,"c":111,"p":4,"q":-8,"r":4},
{"t":1.64,"a":222,"b":-111,"c":-111,"p":8,"q":-4,"r":-4},
{"t":1.6433,"a":111,"b":111,"c":-222,"p":4,"q":4,"r":-8},
{"t":1.6467,"a":-111,"b":222,"c":-111,"p":-4,"q":8,"r":-4},
{"t":1.65,"a":-222,"b":111,"c":111,"p":-8,"q":4,"r":4},
{"t":1.6533,"a":-111,"b":-111,"c":222,"p":-4,"q":-4,"r":8},
{"t":1.6567,"a":111,"b":-222,"c":111,"p":4,"q":-8,"r":4},
{"t":1.66,"a":222,"b":-111,"c":-111,"p":8,"q":-4,"r":-4},
{"t":1.6633,"a":111,"b":111,"c":-222,"p":4,"q":4,"r":-8},
{"t":1.6667,"a":-111,"b":222,"c":-111,"p":-4,"q":8,"r":-4},
{"t":1.67,"a":-222,"b":111,"c":111,"p":-8,"q":4,"r":4},
{"t":1.6733,"a":-111,"b":-111,"c":222,"p":-4,"q":-4,"r":8},
{"t":1.6767,"a":111,"b":-222,"c":111,"p":4,"q":-8,"r":4},
{"t":1.68,"a":222,"b":-111,"c":-111,"p":8,"q":-4,"r":-4},
{"t":1.6833,"a":111,"b":111,"c":-222,"p":4,"q":4,"r":-8},
{"t":1.6867,"a":-111,"b":222,"c":-111,"p":-4,"q":8,"r":-4},
{"t":1.69,"a":-222,"b":111,"c":111,"p":-8,"q":4,"r":4},
{"t":1.6933,"a":-111,"b":-111,"c":222,"p":-4,"q":-4,"r":8},
{"t":1.6967,"a":111,"b":-222,"c":111,"p":4,"q":-8,"r":4},
{"t":1.7,"a":222,"b":-111,"c":-111,"p":8,"q":-4,"r":-4},
{"t":1.7033,"a":111,"b":111,"c":-222,"p":4,"q":4,"r":-8},
{"t":1.7067,"a":-111,"b":222,"c":-111,"p":-4,"q":8,"r":-4},
{"t":1.71,"a":-222,"b":111,"c":111,"p":-8,"q":4,"r":4},
{"t":1.7133,"a":-111,"b":-111,"c":222,"p":-4,"q":-4,"r":8},
{"t":1.7167,"a":111,"b":-222,"c":111,"p":4,"q":-8,"r":4},
{"t":1.72,"a":222,"b":-111,"c":-111,"p":8,"q":-4,"r":-4},
{"t":1.7233,"a":111,"b":111,"c":-222,"p":4,"q":4,"r":-8},
{"t":1.7267,"a":-111,"b":222,"c":-111,"p":-4,"q":8,"r":-4},
{"t":1.73,"a":-222,"b":111,"c":111,"p":-8,"q":4,"r":4},
{"t":1.7333,"a":-111,"b":-111,"c":222,"p":-4,"q":-4,"r":8},
{"t":1.7367,"a":111,"b":-222,"c":111,"p":4,"q":-8,"r":4},
{"t":1.74,"a":222,"b":-111,"c":-111,"p":8,"q":-4,"r":-4},
{"t":1.7433,"a":111,"b":111,"c":-222,"p":4,"q":4,"r":-8},
{"t":1.7467,"a":-111,"b":222,"c":-111,"p":-4,"q":8,"r":-4},
{"t":1.75,"a":-222,"b":111,"c":111,"p":-8,"q":4,"r":4},
{"t":1.7533,"a":-111,"b":-111,"c":222,"p":-4,"q":-4,"r":8},
{"t":1.7567,"a":111,"b":-222,"c":111,"p":4,"q":-8,"r":4},
{"t":1.76,"a":222,"b":-111,"c":-111,"p":8,"q":-4,"r":-4},
{"t":1.7633,"a":111,"b":111,"c":-222,"p":4,"q":4,"r":-8},
{"t":1.7667,"a":-111,"b":222,"c":-111,"p":-4,"q":8,"r":-4},
{"t":1.77,"a":-222,"b":111,"c":111,"p":-8,"q":4,"r":4},
{"t":1.7733,"a":-111,"b":-111,"c":222,"p":-4,"q":-4,"r":8},
{"t":1.7767,"a":111,"b":-222,"c":111,"p":4,"q":-8,"r":4},
{"t":1.78,"a":222,"b":-111,"c":-111,"p":8,"q":-4,"r":-4},
{"t":1.7833,"a":111,"b":111,"c":-222,"p":4,"q":4,"r":-8},
{"t":1.7867,"a":-111,"b":222,"c":-111,"p":-4,"q":8,"r":-4},
{"t":1.79,"a":-222,"b":111,"c":111,"p":-8,"q":4,"r":4},
{"t":1.7933,"a":-111,"b":-111,"c":222,"p":-4,"q":-4,"r":8},
{"t":1.7967,"a":111,"b":-222,"c":111,"p":4,"q":-8,"r":4},
{"t":1.8,"a":222,"b":-111,"c":-111,"p":8,"q":-4,"r":-4},
{"t":1.8033,"a":111,"b":111,"c":-222,"p":4,"q":4,"r":-8},
{"t":1.8067,"a":-111,"b":222,"c":-111,"p":-4,"q":8,"r":-4},
{"t":1.81,"a":-222,"b":111,"c":111,"p":-8,"q":4,"r":4},
{"t":1.8133,"a":-111,"b":-111,"c":222,"p":-4,"q":-4,"r":8},
{"t":1.8167,"a":111,"b":-222,"c":111,"p":4,"q":-8,"r":4},
{"t":1.82,"a":222,"b":-111,"c":-111,"p":8,"q":-4,"r":-4},
{"t":1.8233,"a":111,"b":111,"c":-222,"p":4,"q":4,"r":-8},
{"t":1.8267,"a":-111,"b":222,"c":-111,"p":-4,"q":8,"r":-4},
{"t":1.83,"a":-222,"b":111,"c":111,"p":-8,"q":4,"r":4},
{"t":1.8333,"a":-111,"b":-111,"c":222,"p":-4,"q":-4,"r":8},
{"t":1.8367,"a":111,"b":-222,"c":111,"p":4,"q":-8,"r":4},
{"t":1.84,"a":222,"b":-111,"c":-111,"p":8,"q":-4,"r":-4},
{"t":1.8433,"a":111,"b":111,"c":-222,"p":4,"q":4,"r":-8},
{"t":1.8467,"a":-111,"b":222,"c":-111,"p":-4,"q":8,"r":-4},
{"t":1.85,"a":-222,"b":111,"c":111,"p":-8,"q":4,"r":4},
{"t":1.8533,"a":-111,"b":-111,"c":222,"p":-4,"q":-4,"r":8},
{"t":1.8567,"a":111,"b":-222,"c":111,"p":4,"q":-8,"r":4},
{"t":1.86,"a":222,"b":-111,"c":-111,"p":8,"q":-4,"r":-4},
{"t":1.8633,"a":111,"b":111,"c":-222,"p":4,"q":4,"r":-8},
{"t":1.8667,"a":-111,"b":222,"c":-111,"p":-4,"q":8,"r":-4},
{"t":1.87,"a":-222,"b":111,"c":111,"p":-8,"q":4,"r":4},
{"t":1.8733,"a":-111,"b":-111,"c":222,"p":-4,"q":-4,"r":8},
{"t":1.8767,"a":111,"b":-222,"c":111,"p":4,"q":-8,"r":4},
{"t":1.88,"a":222,"b":-111,"c":-111,"p":8,"q":-4,"r":-4},
{"t":1.8833,"a":111,"b":111,"c":-222,"p":4,"q":4,"r":-8},
{"t":1.8867,"a":-111,"b":222,"c":-111,"p":-4,"q":8,"r":-4},
{"t":1.89,"a":-222,"b":111,"c":111,"p":-8,"q":4,"r":4},
{"t":1.8933,"a":-111,"b":-111,"c":222,"p":-4,"q":-4,"r":8},
{"t":1.8967,"a":111,"b":-222,"c":111,"p":4,"q":-8,"r":4},
{"t":1.9,"a":222,"b":-111,"c":-111,"p":8,"q":-4,"r":-4},
{"t":1.9033,"a":111,"b":111,"c":-222,"p":4,"q":4,"r":-8},
{"t":1.9067,"a":-111,"b":222,"c":-111,"p":-4,"q":8,"r":-4},
{"t":1.91,"a":-222,"b":111,"c":111,"p":-8,"q":4,"r":4},
{"t":1.9133,"a":-111,"b":-111,"c":222,"p":-4,"q":-4,"r":8},
{"t":1.9167,"a":111,"b":-222,"c":111,"p":4,"q":-8,"r":4},
{"t":1.92,"a":222,"b":-111,"c":-111,"p":8,"q":-4,"r":-4},
{"t":1.9233,"a":111,"b":111,"c":-222,"p":4,"q":4,"r":-8},
{"t":1.9267,"a":-111,"b":222,"c":-111,"p":-4,"q":8,"r":-4},
{"t":1.93,"a":-222,"b":111,"c":111,"p":-8,"q":4,"r":4},
{"t":1.9333,"a":-111,"b":-111,"c":222,"p":-4,"q":-4,"r":8},
{"t":1.9367,"a":111,"b":-222,"c":111,"p":4,"q":-8,"r":4},
{"t":1.94,"a":222,"b":-111,"c":-111,"p":8,"q":-4,"r":-4},
{"t":1.9433,"a":111,"b":111,"c":-222,"p":4,"q":4,"r":-8},
{"t":1.9467,"a":-111,"b":222,"c":-111,"p":-4,"q":8,"r":-4},
{"t":1.95,"a":-222,"b":111,"c":111,"p":-8,"q":4,"r":4},
{"t":1.9533,"a":-111,"b":-111,"c":222,"p":-4,"q":-4,"r":8},
{"t":1.9567,"a":111,"b":-222,"c":111,"p":4,"q":-8,"r":4},
{"t":1.96,"a":222,"b":-111,"c":-111,"p":8,"q":-4,"r":-4},
{"t":1.9633,"a":111,"b":111,"c":-222,"p":4,"q":4,"r":-8},
{"t":1.9667,"a":-111,"b":222,"c":-111,"p":-4,"q":8,"r":-4},
{"t":1.97,"a":-222,"b":111,"c":111,"p":-8,"q":4,"r":4},
{"t":1.9733,"a":-111,"b":-111,"c":222,"p":-4,"q":-4,"r":8},
{"t":1.9767,"a":111,"b":-222,"c":111,"p":4,"q":-8,"r":4},
{"t":1.98,"a":222,"b":-111,"c":-111,"p":8,"q":-4,"r":-4},
{"t":1.9833,"a":111,"b":111,"c":-222,"p":4,"q":4,"r":-8},
{"t":1.9867,"a":-111,"b":222,"c":-111,"p":-4,"q":8,"r":-4},
{"t":1.99,"a":-222,"b":111,"c":111,"p":-8,"q":4,"r":4},
{"t":1.9933,"a":-111,"b":-111,"c":222,"p":-4,"q":-4,"r":8},
{"t":1.9967,"a":111,"b":-222,"c":111,"p":4,"q":-8,"r":4},
{"t":2,"a":222,"b":-111,"c":-111,"p":8,"q":-4,"r":-4}
]},
"spacing":1,
"vconcat":[
 {"spacing":7,"vconcat":[
  {"width":656,"height":150,
   "layer":[
    {"data":{"name":"w"},"transform":[{"fold":["a","b","c"],"as":["k","v"]}],
     "mark":{"type":"line","clip":true},
     "encoding":{
      "x":{"field":"t","type":"quantitative","scale":{"domain":[0,2],"nice":false,"zero":false},"axis":{"values":[0,0.2,0.4,0.6,0.8,1,1.2,1.4,1.6,1.8,2],"labels":false}},
      "y":{"field":"v","type":"quantitative","scale":{"domain":[-450,460],"nice":false},"axis":{"values":[-400,-300,-200,-100,0,100,200,300,400],"format":"d","labelOverlap":false,"minExtent":21,"maxExtent":21}},
      "color":{"field":"k","type":"nominal","scale":{"domain":["a","b","c"],"range":["#0000ff","#ff0000","#ffff00"]},"legend":null}
     }},
    {"data":{"values":[{"z":0}]},"mark":{"type":"rule","color":"#5a5a5a","strokeWidth":1},"encoding":{"y":{"field":"z","type":"quantitative","axis":{"values":[-400,-300,-200,-100,0,100,200,300,400],"format":"d","labelOverlap":false,"minExtent":21,"maxExtent":21}}}}
   ]},
  {"width":656,"height":143,
   "layer":[
    {"data":{"name":"w"},"transform":[{"fold":["p","q","r"],"as":["k","v"]}],
     "mark":{"type":"line","clip":true},
     "encoding":{
      "x":{"field":"t","type":"quantitative","scale":{"domain":[0,2],"nice":false,"zero":false},"axis":{"values":[0,0.2,0.4,0.6,0.8,1,1.2,1.4,1.6,1.8,2],"format":"~g","labelPadding":2,"labelOverlap":false}},
      "y":{"field":"v","type":"quantitative","scale":{"domain":[-11.3,11.3],"nice":false},"axis":{"values":[-10,-8,-6,-4,-2,0,2,4,6,8,10],"format":"d","labelOverlap":false,"minExtent":21,"maxExtent":21}},
      "color":{"field":"k","type":"nominal","scale":{"domain":["p","q","r"],"range":["#0000ff","#ff0000","#ffff00"]},"legend":null}
     }},
    {"data":{"values":[{"z":0}]},"mark":{"type":"rule","color":"#c4c4c4","strokeWidth":1},"encoding":{"y":{"field":"z","type":"quantitative","axis":{"values":[-10,-8,-6,-4,-2,0,2,4,6,8,10],"format":"d","labelOverlap":false,"minExtent":21,"maxExtent":21}}}}
   ]}
 ]},
 {"width":667,"height":14,"view":{"fill":"#eeeeee","stroke":null},
  "layer":[
   {"data":{"values":[{"x":0,"s":"Ready"}]},"mark":{"type":"text","align":"left","fontSize":5.5,"dx":-19,"color":"#333333","font":"DejaVu Sans"},"encoding":{"x":{"field":"x","type":"quantitative","scale":{"domain":[0,1]},"axis":null},"text":{"field":"s"}}},
   {"data":{"values":[{"x":1,"s":"T=2.000"}]},"mark":{"type":"text","align":"right","fontSize":5.5,"dx":-6,"color":"#333333","font":"DejaVu Sans"},"encoding":{"x":{"field":"x","type":"quantitative","axis":null},"text":{"field":"s"}}}
  ]}
]
}
